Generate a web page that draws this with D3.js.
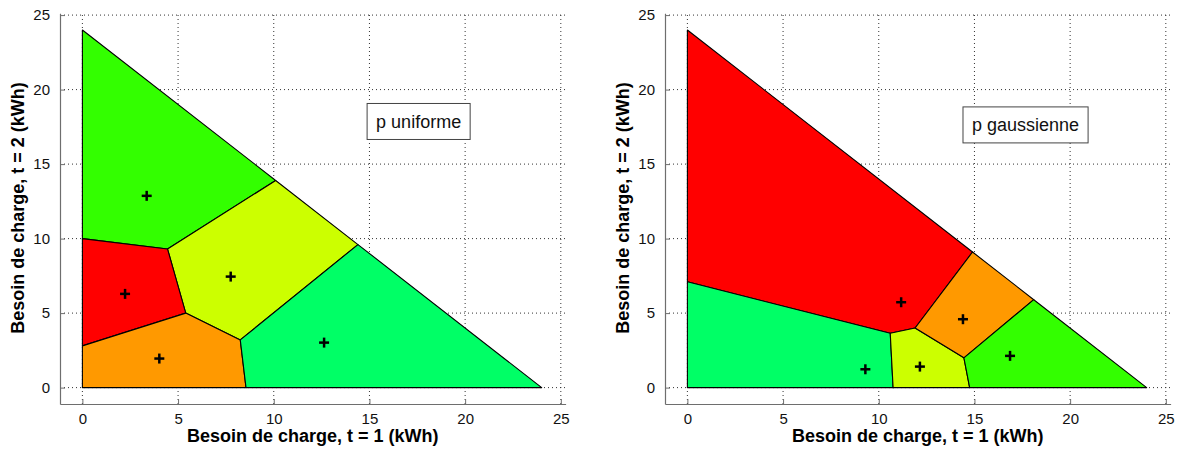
<!DOCTYPE html>
<html>
<head>
<meta charset="utf-8">
<script src="https://cdn.jsdelivr.net/npm/d3@7"></script>
<style>
  body { margin: 0; background: #fff; }
  svg text { font-family: Arial, "Liberation Sans", sans-serif; }
</style>
</head>
<body>
<svg id="canvas" width="1182" height="451"></svg>
<script>
// ---------------------------------------------------------------- data
var ticks = [0, 5, 10, 15, 20, 25];
var xLabel = 'Besoin de charge, t = 1 (kWh)';
var yLabel = 'Besoin de charge, t = 2 (kWh)';

// p uniforme : cells (vertices in kWh), fill colours, centroids
var uniformCells = [
  [[0, 24], [10.1, 13.9], [4.45, 9.3], [0, 10.0]],
  [[10.1, 13.9], [14.4, 9.6], [8.25, 3.2], [5.4, 5.0], [4.45, 9.3]],
  [[0, 10.0], [4.45, 9.3], [5.4, 5.0], [0, 2.8]],
  [[0, 2.8], [5.4, 5.0], [8.25, 3.2], [8.55, 0], [0, 0]],
  [[8.25, 3.2], [14.4, 9.6], [24, 0], [8.55, 0]]
];
var uniformColors = ['#33ff00', '#ccff00', '#ff0000', '#ff9900', '#00ff66'];
var uniformCentroids = [[3.36, 12.87], [7.75, 7.45], [2.23, 6.29], [4.02, 1.95], [12.63, 3.02]];

// p gaussienne
var gaussCells = [
  [[0, 24], [14.9, 9.1], [11.9, 4.0], [10.6, 3.65], [0, 7.1]],
  [[0, 7.1], [10.6, 3.65], [10.75, 0], [0, 0]],
  [[10.6, 3.65], [11.9, 4.0], [14.45, 2.0], [14.75, 0], [10.75, 0]],
  [[11.9, 4.0], [14.9, 9.1], [18.1, 5.9], [14.45, 2.0]],
  [[14.45, 2.0], [18.1, 5.9], [24, 0], [14.75, 0]]
];
var gaussColors = ['#ff0000', '#00ff66', '#ccff00', '#ff9900', '#33ff00'];
var gaussCentroids = [[11.17, 5.73], [9.30, 1.23], [12.15, 1.41], [14.40, 4.59], [16.86, 2.13]];

// ---------------------------------------------------------------- draw
var svg = d3.select('#canvas');
var xDomain = [-1.17, 25.25], yDomain = [-1.1, 25.12];

function drawPanel(left, cells, colors, centroids, legend, legendPos) {
  var x = d3.scaleLinear().domain(xDomain).range([left, left + 505.6]);
  var y = d3.scaleLinear().domain(yDomain).range([404, 13.3]);
  var g = svg.append('g');

  // dotted grid
  g.selectAll('.vgrid').data(ticks).join('line').attr('class', 'vgrid')
    .attr('x1', d => x(d)).attr('x2', d => x(d))
    .attr('y1', y(yDomain[0])).attr('y2', y(yDomain[1]))
    .style('stroke', '#333').style('stroke-dasharray', '1,3');
  g.selectAll('.hgrid').data(ticks).join('line').attr('class', 'hgrid')
    .attr('y1', d => y(d)).attr('y2', d => y(d))
    .attr('x1', x(xDomain[0])).attr('x2', x(xDomain[1]))
    .style('stroke', '#333').style('stroke-dasharray', '1,3');

  // cells
  var line = d3.line().x(d => x(d[0])).y(d => y(d[1]));
  g.selectAll('.cell').data(cells).join('path').attr('class', 'cell')
    .attr('d', d => line(d) + 'Z')
    .style('fill', (d, i) => colors[i])
    .style('stroke', '#000').style('stroke-width', 1.1).style('stroke-linejoin', 'round');

  // centroids
  var mk = g.selectAll('.mk').data(centroids).join('g').attr('class', 'mk')
    .attr('transform', d => 'translate(' + x(d[0]) + ',' + y(d[1]) + ')');
  mk.append('line').attr('x1', -5).attr('x2', 5).attr('y1', 0).attr('y2', 0)
    .style('stroke', '#000').style('stroke-width', 2.5);
  mk.append('line').attr('y1', -5).attr('y2', 5).attr('x1', 0).attr('x2', 0)
    .style('stroke', '#000').style('stroke-width', 2.5);

  // axes (left + bottom only)
  var xAxis = d3.axisBottom(x).tickValues(ticks).tickSize(-5).tickPadding(9).tickSizeOuter(0);
  var yAxis = d3.axisLeft(y).tickValues(ticks).tickSize(-5).tickPadding(10).tickSizeOuter(0);
  var gx = g.append('g').attr('transform', 'translate(0,' + 404 + ')').call(xAxis);
  var gy = g.append('g').attr('transform', 'translate(' + left + ',0)').call(yAxis);
  [gx, gy].forEach(function(a) {
    a.select('.domain').style('stroke', '#6e6e6e').style('stroke-width', 1.2);
    a.selectAll('.tick line').style('stroke', '#6e6e6e');
    a.selectAll('.tick text').style('font-size', '15px').style('fill', '#111');
  });

  // axis titles
  g.append('text').attr('x', left + 252.8).attr('y', 442)
    .attr('text-anchor', 'middle').style('font-size', '18px').style('font-weight', 'bold')
    .text(xLabel);
  g.append('text').attr('transform', 'translate(' + (left - 36) + ',208) rotate(-90)')
    .attr('text-anchor', 'middle').style('font-size', '18px').style('font-weight', 'bold')
    .text(yLabel);

  // legend text box
  var lg = g.append('g');
  var box = lg.append('rect').style('fill', '#fff').style('stroke', '#444').style('stroke-width', 1);
  var txt = lg.append('text').attr('x', x(legendPos[0])).attr('y', y(legendPos[1]))
    .attr('text-anchor', 'middle').attr('dy', '0.35em').style('font-size', '18px').style('fill', '#111')
    .text(legend);
  var bb = txt.node().getBBox();
  box.attr('x', bb.x - 9).attr('y', y(legendPos[1]) - 18).attr('width', bb.width + 18).attr('height', 36);
}

drawPanel(60, uniformCells, uniformColors, uniformCentroids, 'p uniforme', [17.57, 17.86]);
drawPanel(665, gaussCells, gaussColors, gaussCentroids, 'p gaussienne', [17.67, 17.63]);
</script>
</body>
</html>
